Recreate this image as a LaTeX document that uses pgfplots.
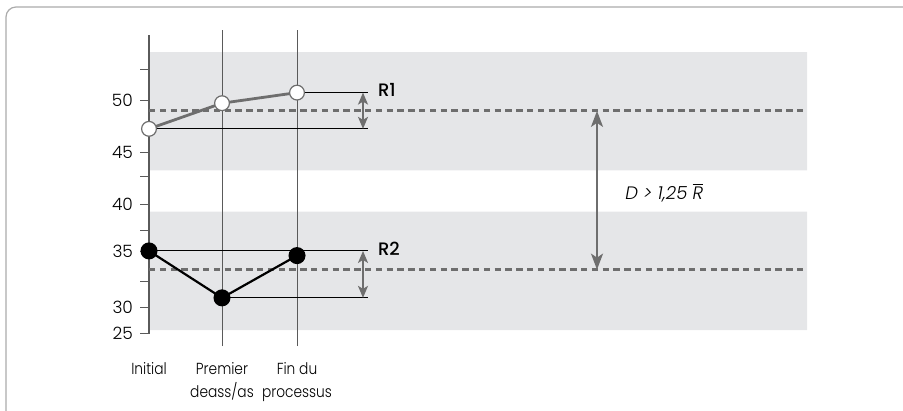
\documentclass[border=0pt]{standalone}
\usepackage{fontspec}
\setmainfont{Poppins Light}[BoldFont={Poppins Medium}, ItalicFont={Poppins Light Italic}]
\newfontfamily\condfont{Poppins Light}[FakeStretch=0.86]
\usepackage{pgfplots}
\pgfplotsset{compat=1.18}
\usetikzlibrary{arrows.meta}
\definecolor{band}{HTML}{E5E6E8}
\definecolor{lgray}{HTML}{6E6E6E}
\definecolor{vgray}{HTML}{5A5A5A}
\definecolor{framec}{HTML}{ABABAB}
\begin{document}
\begin{tikzpicture}
\begin{axis}[
  at={(74.5pt,38.5pt)}, anchor=south west,
  scale only axis, width=329pt, height=149.5pt,
  xmin=0, xmax=658, ymin=27.45, ymax=56.25,
  clip=false, set layers,
  axis y line=left, axis x line=bottom,
  x axis line style={draw=none},
  y axis line style={-, draw=vgray, line width=0.8pt},
  xtick={0,73,148},
  xticklabels={Initial, Premier\\deass/as, Fin du\\processus},
  xticklabel style={align=center, font=\condfont\fontsize{8}{11.5}\selectfont, yshift=-6pt},
  major x tick style={draw=none},
  ytick={27.47,29.97,35.41,39.9,44.97,49.97},
  yticklabels={25,30,35,40,45,50},
  minor ytick={32.5,37.4,42.6,52.9},
  y tick style={draw=vgray, line width=0.5pt},
  tick align=outside, major tick length=4.5pt, minor tick length=4.5pt,
  yticklabel style={font=\fontsize{8.5}{10}\selectfont},
  /pgf/number format/assume math mode=true,
]
% bands
\addplot[fill=band, draw=none, on layer=axis background] coordinates {(0,43.2) (658,43.2) (658,54.6) (0,54.6) (0,43.2)};
\addplot[fill=band, draw=none, on layer=axis background] coordinates {(0,27.82) (658,27.82) (658,39.23) (0,39.23) (0,27.82)};
% vertical lines
\addplot[vgray, line width=0.5pt] coordinates {(73,26.28) (73,56.73)};
\addplot[vgray, line width=0.5pt] coordinates {(148,26.28) (148,56.73)};
% range lines
\addplot[black, line width=0.5pt] coordinates {(148,50.70) (219,50.70)};
\addplot[black, line width=0.5pt] coordinates {(0,47.21) (219,47.21)};
\addplot[black, line width=0.5pt] coordinates {(0,35.45) (219,35.45)};
\addplot[black, line width=0.5pt] coordinates {(73,30.93) (219,30.93)};
% means
\addplot[lgray, line width=1.5pt, dash pattern=on 3.2pt off 2.2pt] coordinates {(0,48.94) (658,48.94)};
\addplot[lgray, line width=1.5pt, dash pattern=on 3.2pt off 2.2pt] coordinates {(0,33.65) (658,33.65)};
% arrows
\addplot[lgray, line width=0.8pt, {Stealth[length=6pt,width=5pt,inset=1.5pt]}-{Stealth[length=6pt,width=5pt,inset=1.5pt]}] coordinates {(214,50.70) (214,47.21)};
\addplot[lgray, line width=0.8pt, {Stealth[length=6pt,width=5pt,inset=1.5pt]}-{Stealth[length=6pt,width=5pt,inset=1.5pt]}] coordinates {(214,35.45) (214,30.93)};
\addplot[lgray, line width=1pt, {Stealth[length=8pt,width=6pt,inset=2pt]}-{Stealth[length=8pt,width=6pt,inset=2pt]}] coordinates {(448,48.94) (448,33.65)};
% data
\addplot[lgray, line width=1.4pt, mark=*, mark size=3.7pt, mark options={fill=white, draw=lgray, line width=0.6pt}] coordinates {(0,47.21) (73,49.68) (148,50.70)};
\addplot[black, line width=1.1pt, mark=*, mark size=3.7pt, mark options={fill=black}] coordinates {(0,35.45) (73,30.93) (148,35.0)};
% labels
\node[anchor=west, font=\fontsize{9}{10}\selectfont\bfseries] at (axis cs:222,51.0) {R1};
\node[anchor=west, font=\fontsize{9}{10}\selectfont\bfseries] at (axis cs:222,35.7) {R2};
\node[anchor=west, inner sep=0pt, font=\fontsize{9}{10}\selectfont\itshape] at (axis cs:476,41.06) {D > 1,25 $\overline{\hbox{\itshape R}}$};
\end{axis}
\draw[framec, line width=0.6pt, rounded corners=5pt] (3pt,-5pt) -- (3pt,202pt) -- (460pt,202pt);
\pgfresetboundingbox
\path[use as bounding box] (0,0) rectangle (451.5pt,205.5pt);
\end{tikzpicture}
\end{document}
